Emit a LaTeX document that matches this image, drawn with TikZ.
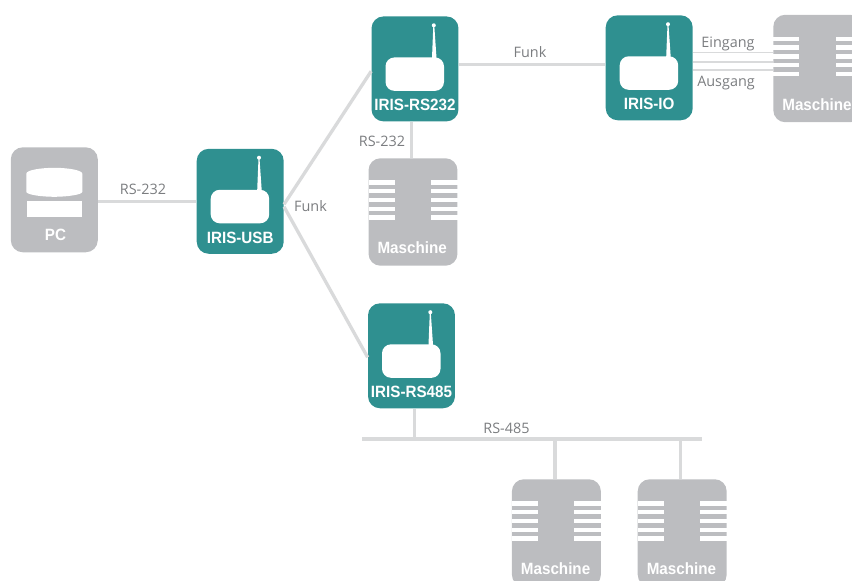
\documentclass[tikz,border=0pt]{standalone}
\usepackage{fontspec}
\setmainfont{Liberation Sans}
\newfontfamily\labelfont{Open Sans}
\newfontfamily\boxfont[FakeStretch=0.93]{Liberation Sans}
\definecolor{irisTeal}{HTML}{2F9090}
\definecolor{boxGray}{HTML}{BCBDC0}
\definecolor{wireGray}{HTML}{D9DADB}
\definecolor{labelGray}{HTML}{7B7D80}
\tikzset{box/.style={rounded corners=2.4mm,minimum width=1.74cm,minimum height=2.1cm,inner sep=0pt},
iris/.style={box,fill=irisTeal},
pcbox/.style={box,fill=boxGray},
machine/.style={box,fill=boxGray,minimum width=1.78cm,minimum height=2.15cm},
box text/.style={font=\boxfont\bfseries\fontsize{9.3}{11}\selectfont,text=white,inner sep=0pt,anchor=base},
wire/.style={draw=wireGray,line width=0.066cm},
thin wire/.style={draw=wireGray,line width=0.03cm},
wire label/.style={font=\labelfont\fontsize{8.2}{10}\selectfont,text=labelGray,inner sep=0pt},
pics/radio/.style={code={
\fill [white,rounded corners=1.8mm] (-29.5,-11.5) rectangle (29,22);
\fill [white] (17,-11) -- (18.3,-43) -- (19.3,-43) -- (21.5,-11) -- cycle;
\fill [white] (18.8,-43.6) circle (2);
\node [box text] (-text) at (0,41.7) {#1};
}},
pics/slats/.style={code={
\foreach \i in {0,...,4} {
\fill [white] (-44.5,-29.7+8.8*\i-2.2) rectangle (-18.5,-29.7+8.8*\i+2.2);
\fill [white] (18,-29.7+8.8*\i-2.2) rectangle (44.5,-29.7+8.8*\i+2.2);
}
\node [box text] (-text) at (-0.8,41.7) {Maschine};
}},
pics/computer/.style={code={
\fill [white] (-28,-26) .. controls (-28,-30) and (-12,-32) .. (0,-32) .. controls (12,-32) and (28,-30) .. (28,-26) -- (28,-8) .. controls (28,-5) and (12,-3) .. (0,-3) .. controls (-12,-3) and (-28,-5) .. (-28,-8) -- cycle;
\fill [white] (-27.7,1) rectangle (28,17);
\node [box text] (-text) at (1.2,40.2) {PC};
}}}

\begin{document}
\begin{tikzpicture}[x=0.02cm,y=-0.02cm]
\path [use as bounding box,clip] (0,0) rectangle (852,581);

%% Coordinates of nodes.
\coordinate (cPc) at (54.3,199.8);
\coordinate (cUsb) at (240.2,201.3);
\coordinate (cRsa) at (415,68.9);
\coordinate (cIo) at (649.2,67.8);
\coordinate (cRsb) at (411.5,355.8);
\coordinate (cMa) at (413,212);
\coordinate (cMb) at (817.8,68.5);
\coordinate (cMc) at (556.4,533);
\coordinate (cMd) at (682.2,533);
\coordinate (busl) at (362.3,439);
\coordinate (busr) at (702.3,439);
\coordinate (busc) at (555,439);
\coordinate (busd) at (680.7,439);
\coordinate (sigA) at (0,52.7);
\coordinate (sigB) at (0,62);
\coordinate (sigC) at (0,70);

%% boxes
\node [pcbox] (pc) at (cPc) {};
\node [iris] (usb) at (cUsb) {};
\node [iris] (rsa) at (cRsa) {};
\node [iris] (io) at (cIo) {};
\node [iris] (rsb) at (cRsb) {};
\node [machine] (ma) at (cMa) {};
\node [machine] (mb) at (cMb) {};
\node [machine] (mc) at (cMc) {};
\node [machine] (md) at (cMd) {};

%% wires
\draw [wire] (usb.west -| pc.east) -- (usb.west);
\draw [wire] (usb.-4) -- (rsa.183);
\draw [wire] (usb.-7) -- (rsb.182);
\draw [wire] (rsa.6) -- (rsa.6 -| io.west);
\draw [wire] (rsa.-94) -- (rsa.-94 |- ma.north);
\draw [wire] (busl) -- (busr);
\draw [wire] (rsb.-87) -- (rsb.-87 |- busl);
\draw [wire] (busc) -- (busc |- mc.north);
\draw [wire] (busd) -- (busd |- md.north);
\draw [thin wire] (sigA -| io.east) -- (sigA -| mb.west);
\draw [thin wire] (sigB -| io.east) -- (sigB -| mb.west);
\draw [thin wire] (sigC -| io.east) -- (sigC -| mb.west);

%% icons
\pic (pcIcon) at (cPc) {computer};
\pic (usbIcon) at (cUsb) {radio=IRIS-USB};
\pic (rsaIcon) at (cRsa) {radio=IRIS-RS232};
\pic (ioIcon) at (cIo) {radio=IRIS-IO};
\pic (rsbIcon) at (cRsb) {radio=IRIS-RS485};
\pic (maIcon) at (cMa) {slats};
\pic (mbIcon) at (cMb) {slats};
\pic (mcIcon) at (cMc) {slats};
\pic (mdIcon) at (cMd) {slats};

%% wire labels
\node [wire label] (lblPc) at (143,189.3) {RS-232};
\node [wire label] (lblFunkA) at (310.5,206.3) {Funk};
\node [wire label] (lblRsa) at (382,141.6) {RS-232};
\node [wire label] (lblFunkB) at (530,52.3) {Funk};
\node [wire label] (lblIn) at (728,44.3) {Eingang};
\node [wire label] (lblOut) at (726,83.3) {Ausgang};
\node [wire label] (lblRsb) at (506.5,428.2) {RS-485};

\end{tikzpicture}
\end{document}
